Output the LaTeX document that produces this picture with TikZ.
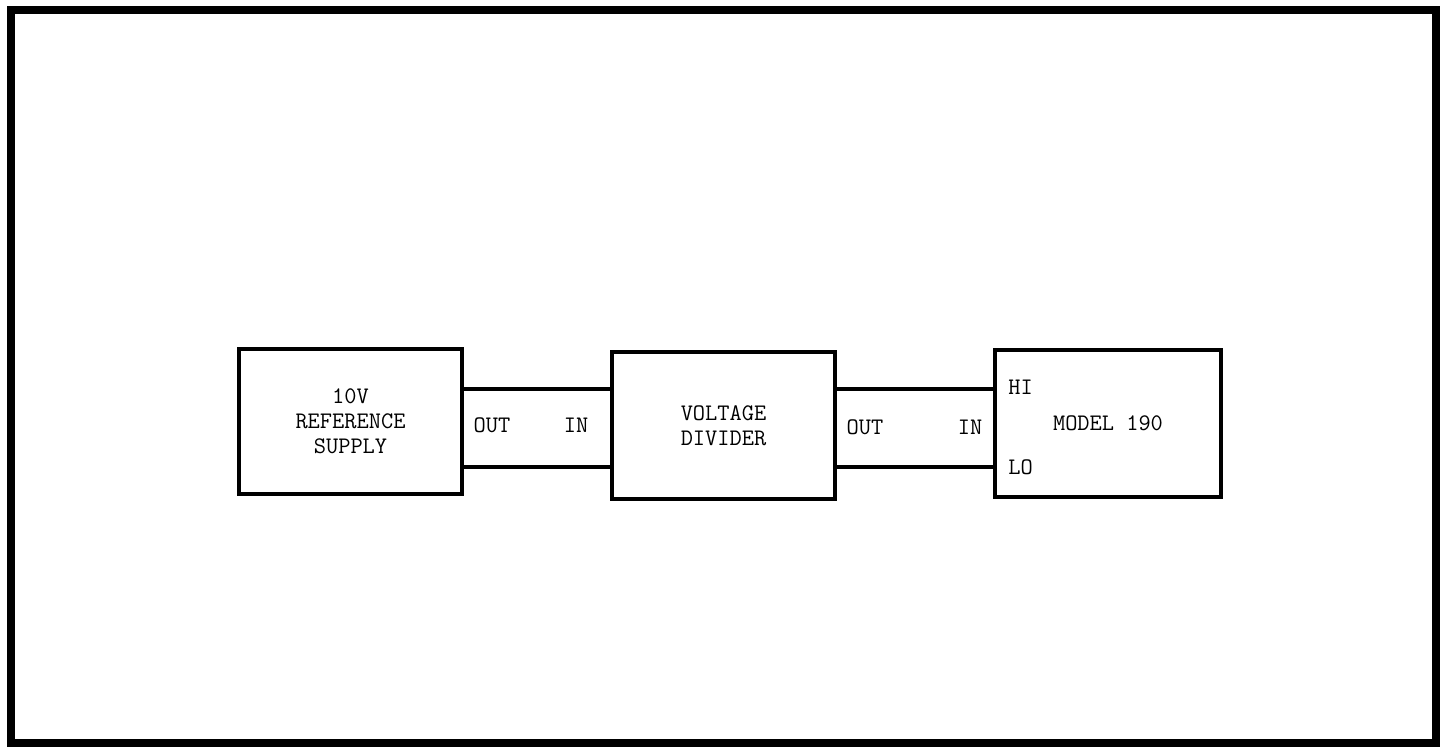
\documentclass[tikz,border=0pt]{standalone}
\usepackage{tikz}
\usetikzlibrary{calc,positioning}
\tikzset{
myFrame/.style={
	draw, line width=4.5pt
}
, myBox/.style={
	rectangle, draw, line width=2.5pt,
	inner sep=0pt, align=center, text=black,
	font=\ttfamily\fontsize{13.5}{14.2}\selectfont
}
, myLabel/.style={
	inner sep=0pt, text=black,
	font=\ttfamily\fontsize{13.5}{14.2}\selectfont
}
% link
, myWire/.style={line width=2.2pt}
}

\begin{document}
\begin{tikzpicture}[x=0.02cm,y=-0.02cm]
	\useasboundingbox (0,0) rectangle (1448,751);
	% frame
	\draw[myFrame] (11,10) rectangle (1436,743);
	% nodes
	\node[myBox, minimum width=4.46cm, minimum height=2.9cm] (Supply) at (350.5,421.5) {10V\\REFERENCE\\SUPPLY};
	\node[myBox, minimum width=4.46cm, minimum height=2.94cm] (Divider) at (723.5,425.5) {VOLTAGE\\DIVIDER};
	\node[myBox, minimum width=4.52cm, minimum height=2.94cm] (Model) at (1108,423.5) {MODEL 190};
	% wire heights
	\coordinate (WireHi) at (0,389);
	\coordinate (WireLo) at (0,467);
	% terminals
	\node[myLabel] (SupplyOut) at (492,425) {OUT};
	\node[myLabel] (DividerIn) at (576,425) {IN};
	\node[myLabel] (DividerOut) at (865,427) {OUT};
	\node[myLabel] (ModelIn) at (970,427) {IN};
	\node[myLabel, anchor=west] (ModelHi) at (1008,387) {HI};
	\node[myLabel, anchor=west] (ModelLo) at (1008,467) {LO};
	% links
	\draw[myWire] (Supply.east |- WireHi) -- (Divider.west |- WireHi);
	\draw[myWire] (Supply.east |- WireLo) -- (Divider.west |- WireLo);
	\draw[myWire] (Divider.east |- WireHi) -- (Model.west |- WireHi);
	\draw[myWire] (Divider.east |- WireLo) -- (Model.west |- WireLo);
\end{tikzpicture}
\end{document}
